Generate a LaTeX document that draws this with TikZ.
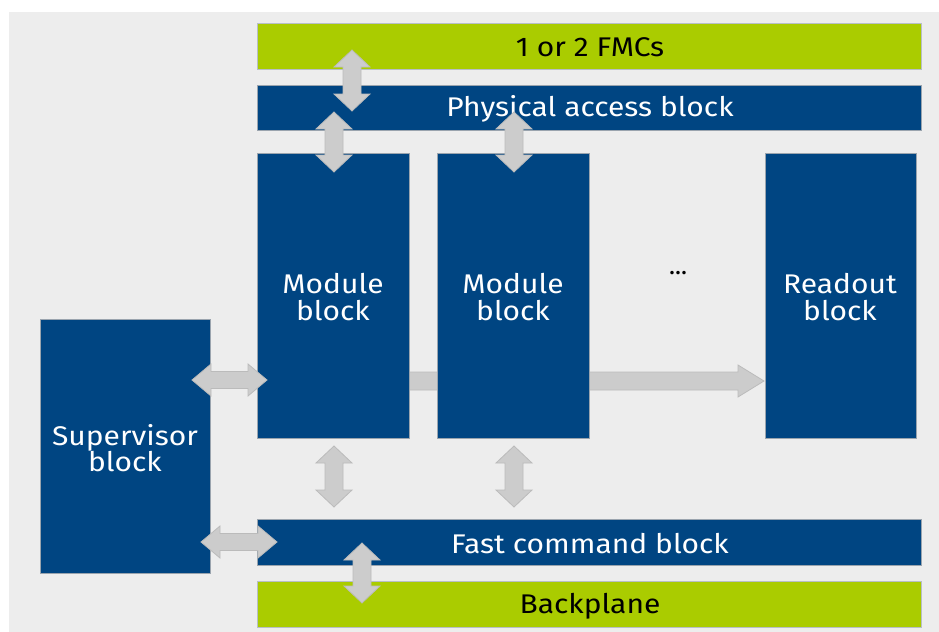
\documentclass[tikz,border=0pt]{standalone}
\usepackage{fontspec}
\setmainfont{Fira Sans}
\definecolor{bgpanel}{HTML}{EDEDED}
\definecolor{blk}{HTML}{004582}
\definecolor{grn}{HTML}{AACC00}
\definecolor{arw}{HTML}{CCCCCC}
\definecolor{arwline}{HTML}{BBBBBB}
\definecolor{edge}{HTML}{9AA4AE}
\newcommand\vdarrow[3]{% xc, ytop, ybottom
  \draw[arrowshape] (#1,#2) -- (#1+18,#2+17) -- (#1+9,#2+17) -- (#1+9,#3-17) -- (#1+18,#3-17)
    -- (#1,#3) -- (#1-18,#3-17) -- (#1-9,#3-17) -- (#1-9,#2+17) -- (#1-18,#2+17) -- cycle;}
\newcommand\hdarrow[3]{% yc, xleft, xright
  \draw[arrowshape] (#2,#1) -- (#2+19,#1-16) -- (#2+19,#1-8.5) -- (#3-19,#1-8.5) -- (#3-19,#1-16)
    -- (#3,#1) -- (#3-19,#1+16) -- (#3-19,#1+8.5) -- (#2+19,#1+8.5) -- (#2+19,#1+16) -- cycle;}
\tikzset{
  arrowshape/.style={fill=arw, draw=arwline, line width=0.4pt},
  blue box/.style={fill=blk, draw=edge, line width=0.4pt},
  green box/.style={fill=grn, draw=edge!70, line width=0.4pt},
  wtext/.style={text=white, align=center, font=\fontsize{13.5}{13.3}\selectfont, xscale=1.11, transform shape},
  btext/.style={text=black, align=center, font=\fontsize{13.5}{13.3}\selectfont, xscale=1.11, transform shape},
}
\begin{document}
\begin{tikzpicture}[x=0.5pt,y=-0.5pt]
\useasboundingbox (0,0) rectangle (939,632);
\fill[white] (0,0) rectangle (939,632);
\fill[bgpanel] (9,12) rectangle (939,632);
% data shaft behind module 2
\draw[arrowshape] (400,372) -- (738,372) -- (738,365) -- (764,381) -- (738,397) -- (738,390) -- (400,390) -- cycle;
% blocks
\draw[green box] (257,23) rectangle (921,69);
\node[btext] (fmc) at (590,47) {1 or 2 FMCs};
\draw[blue box] (257,85) rectangle (921,130);
\node[wtext] (pab) at (590,109) {Physical access block};
\draw[blue box] (257,153) rectangle (409,438);
\node[wtext] (m1) at (333,297) {Module\\block};
\draw[blue box] (437,153) rectangle (589,438);
\node[wtext] (m2) at (513,297) {Module\\block};
\draw[blue box] (765,153) rectangle (916,438);
\node[wtext] (ro) at (840,297) {Readout\\block};
\node[text=black, font=\fontsize{12.5}{13.5}\selectfont] (dots) at (678,273) {...};
\draw[blue box] (40,319) rectangle (210,573);
\node[wtext] (sup) at (125,448) {Supervisor\\block};
\draw[blue box] (257,519) rectangle (921,565);
\node[wtext] (fcb) at (590,544) {Fast command block};
\draw[green box] (257,581) rectangle (921,627);
\node[btext] (bp) at (590,606) {Backplane};
% arrows
\vdarrow{352}{50}{111}
\vdarrow{334}{112}{172}
\vdarrow{514}{112}{172}
\vdarrow{334}{446}{507}
\vdarrow{514}{446}{507}
\vdarrow{362}{543}{603}
\hdarrow{380}{192}{267}
\hdarrow{542}{201}{277}
\end{tikzpicture}
\end{document}
